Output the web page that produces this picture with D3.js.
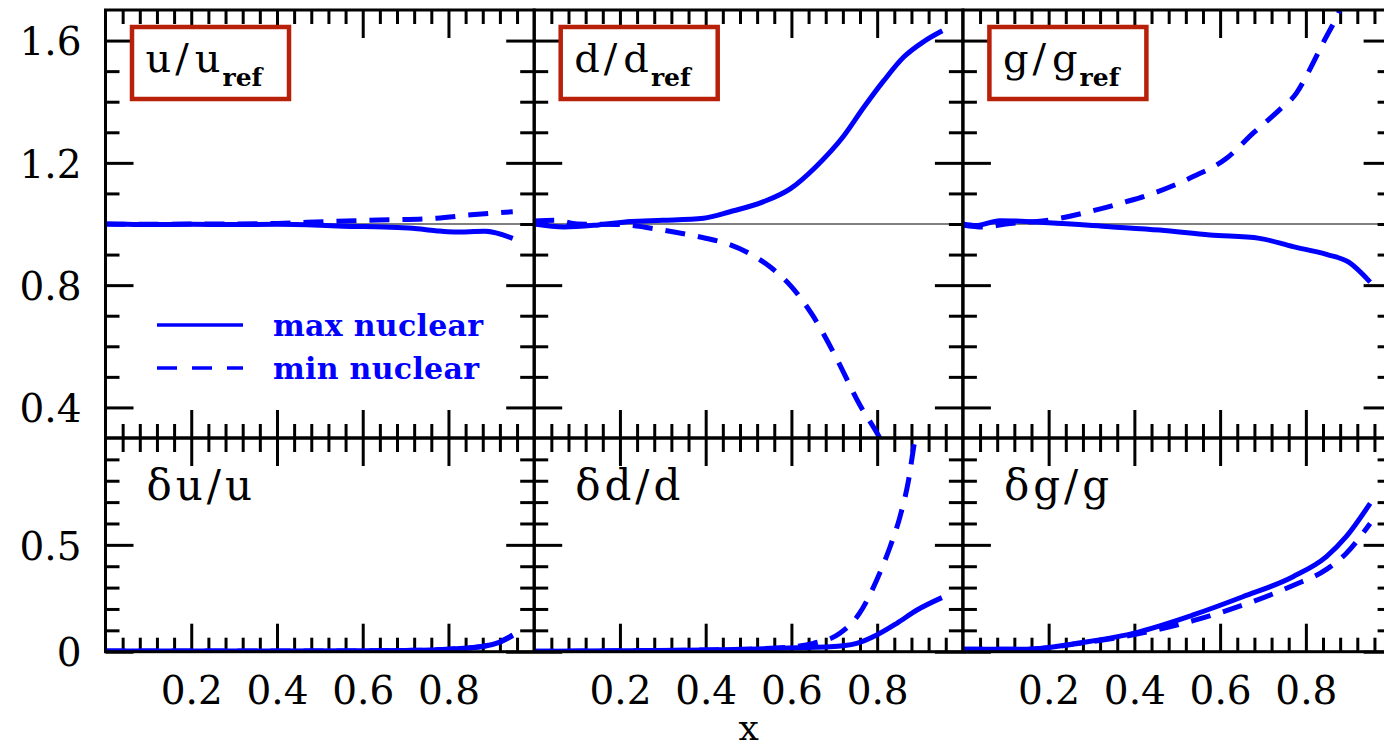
<!DOCTYPE html>
<html>
<head>
<meta charset="utf-8">
<script src="https://cdn.jsdelivr.net/npm/d3@7"></script>
<style>
  body { margin: 0; background: #fff; }
  svg { display: block; }
</style>
</head>
<body>
<svg id="chart" width="1384" height="751"></svg>
<script>
// ---- data ----
var xMajor = [0.2, 0.4, 0.6, 0.8];
var topMajor = [0.4, 0.8, 1.2, 1.6];
var botMajor = [0, 0.5];
var names = ["u", "d", "g"];

// u / u_ref
var uMaxX = [0, 0.05, 0.1, 0.2, 0.3, 0.4, 0.5, 0.555, 0.65, 0.716, 0.77, 0.813, 0.885, 0.95];
var uMaxY = [1.0, 0.999, 0.998, 0.999, 0.998, 0.999, 0.996, 0.993, 0.99, 0.986, 0.978, 0.974, 0.976, 0.953];
var uMinX = [0, 0.1, 0.2, 0.3, 0.4, 0.515, 0.636, 0.772, 0.853, 0.95];
var uMinY = [1.0, 0.999, 1.0, 1.0, 1.002, 1.008, 1.013, 1.019, 1.03, 1.04];
// d / d_ref
var dMaxX = [0, 0.07, 0.15, 0.224, 0.3, 0.395, 0.457, 0.535, 0.597, 0.659, 0.721, 0.768, 0.815, 0.862, 0.909, 0.952];
var dMaxY = [1.0, 0.99, 0.997, 1.008, 1.012, 1.019, 1.04, 1.073, 1.115, 1.19, 1.286, 1.38, 1.468, 1.546, 1.597, 1.632];
var dMinX = [0, 0.05, 0.1, 0.2, 0.3, 0.395, 0.44, 0.5, 0.55, 0.6, 0.65, 0.7, 0.76, 0.806, 0.84];
var dMinY = [1.01, 1.012, 1.0, 0.998, 0.98, 0.955, 0.94, 0.905, 0.86, 0.795, 0.7, 0.575, 0.407, 0.3, 0.2];
// g / g_ref
var gMaxX = [0, 0.03, 0.086, 0.2, 0.343, 0.459, 0.576, 0.692, 0.77, 0.85, 0.9, 0.95];
var gMaxY = [1.0, 0.995, 1.011, 1.004, 0.991, 0.98, 0.964, 0.953, 0.926, 0.9, 0.875, 0.81];
var gMinX = [0, 0.05, 0.1, 0.203, 0.311, 0.381, 0.443, 0.537, 0.615, 0.677, 0.739, 0.778, 0.809, 0.84, 0.879, 0.9];
var gMinY = [0.997, 0.99, 1.0, 1.013, 1.046, 1.073, 1.1, 1.155, 1.215, 1.297, 1.374, 1.428, 1.505, 1.592, 1.7, 1.78];
// delta u / u
var duMaxX = [0, 0.2, 0.4, 0.6, 0.7, 0.756, 0.8, 0.877, 0.92, 0.95];
var duMaxY = [0.003, 0.003, 0.003, 0.004, 0.006, 0.008, 0.012, 0.023, 0.045, 0.075];
var duMinX = [0, 0.2, 0.4, 0.6, 0.7, 0.756, 0.8, 0.877, 0.92, 0.95];
var duMinY = [0.003, 0.003, 0.003, 0.004, 0.006, 0.008, 0.012, 0.024, 0.047, 0.078];
// delta d / d
var ddMaxX = [0, 0.2, 0.4, 0.5, 0.612, 0.69, 0.752, 0.799, 0.846, 0.893, 0.951];
var ddMaxY = [0.002, 0.004, 0.008, 0.012, 0.019, 0.023, 0.039, 0.078, 0.133, 0.195, 0.253];
var ddMinX = [0, 0.2, 0.4, 0.5, 0.6, 0.651, 0.713, 0.759, 0.799, 0.83, 0.853, 0.873, 0.888, 0.9];
var ddMinY = [0.002, 0.004, 0.008, 0.012, 0.022, 0.039, 0.086, 0.18, 0.336, 0.49, 0.63, 0.8, 0.99, 1.1];
// delta g / g
var dgMaxX = [0, 0.148, 0.265, 0.397, 0.537, 0.653, 0.77, 0.848, 0.894, 0.95];
var dgMaxY = [0.011, 0.011, 0.039, 0.086, 0.172, 0.257, 0.351, 0.445, 0.538, 0.694];
var dgMinX = [0, 0.148, 0.265, 0.397, 0.537, 0.653, 0.77, 0.848, 0.894, 0.95];
var dgMinY = [0.011, 0.011, 0.037, 0.079, 0.145, 0.218, 0.31, 0.385, 0.46, 0.6];

var topSeries = [[uMaxX, uMaxY, uMinX, uMinY], [dMaxX, dMaxY, dMinX, dMinY], [gMaxX, gMaxY, gMinX, gMinY]];
var botSeries = [[duMaxX, duMaxY, duMinX, duMinY], [ddMaxX, ddMaxY, ddMinX, ddMinY], [dgMaxX, dgMaxY, dgMinX, dgMinY]];

// ---- layout ----
var svg = d3.select("#chart");
var left0 = 105.5, colW = 428.7;
var topY = 10, midY = 438, botY = 651.7;
var blue = "#0000ff", red = "#b8200a";
var font = "'DejaVu Serif', serif";

var xMinor = d3.range(0.04, 1, 0.04).filter(function(v) { return xMajor.every(function(m) { return Math.abs(m - v) > 1e-6; }); });
var topMinor = d3.range(0.4, 1.7, 0.1).filter(function(v) { return topMajor.every(function(m) { return Math.abs(m - v) > 1e-6; }); });
var botMinor = d3.range(0.1, 1, 0.1).filter(function(v) { return Math.abs(v - 0.5) > 1e-6; });

function noLabel() { return ""; }

function sideTicks(g, axis, scale, pos, major, minor, labels, pad) {
  var a = g.append("g").attr("transform", pos);
  a.call(axis(scale).tickValues(major).tickSize(-28).tickSizeOuter(0).tickPadding(pad || 26)
    .tickFormat(labels ? labels : noLabel));
  var b = g.append("g").attr("transform", pos);
  b.call(axis(scale).tickValues(minor).tickSize(-14).tickSizeOuter(0).tickFormat(noLabel));
  [a, b].forEach(function(s) {
    s.select(".domain").remove();
    s.selectAll(".tick line").attr("stroke", "#000").attr("stroke-width", 3);
    s.selectAll(".tick text").attr("font-family", font).attr("font-size", 39).attr("fill", "#000");
  });
  return a;
}

var line = d3.line().curve(d3.curveMonotoneX);

function drawPanel(col, isTop) {
  var x0 = left0 + col * colW;
  var x = d3.scaleLinear().domain([0, 1]).range([x0, x0 + colW]);
  var y = isTop ? d3.scaleLinear().domain([0.3, 1.7]).range([midY, topY])
                : d3.scaleLinear().domain([0, 1]).range([botY, midY]);
  var major = isTop ? topMajor : botMajor;
  var minor = isTop ? topMinor : botMinor;
  var g = svg.append("g");
  var id = "clip" + col + (isTop ? "t" : "b");
  g.append("clipPath").attr("id", id).append("rect")
    .attr("x", x(0)).attr("y", y.range()[1]).attr("width", colW).attr("height", y.range()[0] - y.range()[1]);

  var yLab = (col === 0) ? function(d) { return d === 0 ? "0" : d3.format(".1f")(d); } : null;
  var la = sideTicks(g, d3.axisLeft, y, "translate(" + x(0) + ",0)", major, minor, yLab, 24);
  la.selectAll(".tick text").attr("dy", "0.365em");
  sideTicks(g, d3.axisRight, y, "translate(" + x(1) + ",0)", major, minor, null);
  sideTicks(g, d3.axisTop, x, "translate(0," + y.range()[1] + ")", xMajor, xMinor, null);
  var xb = sideTicks(g, d3.axisBottom, x, "translate(0," + y.range()[0] + ")", xMajor, xMinor,
    isTop ? null : d3.format(".1f"), 25);
  xb.selectAll(".tick text").attr("dy", "0.71em");

  if (isTop) {
    g.append("line").attr("x1", x(0)).attr("x2", x(1)).attr("y1", y(1)).attr("y2", y(1))
      .attr("stroke", "#000").attr("stroke-width", 1.2);
  }

  var s = isTop ? topSeries[col] : botSeries[col];
  var lines = g.append("g").attr("clip-path", "url(#" + id + ")");
  var solid = s[0].map(function(v, i) { return [x(v), y(s[1][i])]; });
  var dashed = s[2].map(function(v, i) { return [x(v), y(s[3][i])]; });
  lines.append("path").attr("d", line(dashed)).attr("fill", "none").attr("stroke", blue)
    .attr("stroke-width", 5).attr("stroke-dasharray", "20,13");
  lines.append("path").attr("d", line(solid)).attr("fill", "none").attr("stroke", blue)
    .attr("stroke-width", 5);

  g.append("rect").attr("x", x(0)).attr("y", y.range()[1]).attr("width", colW)
    .attr("height", y.range()[0] - y.range()[1]).attr("fill", "none")
    .attr("stroke", "#000").attr("stroke-width", 3);

  var n = names[col];
  if (isTop) {
    g.append("rect").attr("x", x0 + 26.5).attr("y", 27).attr("width", 157).attr("height", 72)
      .attr("fill", "#fff").attr("stroke", red).attr("stroke-width", 4.5);
    var t = g.append("text").attr("x", x0 + 40).attr("y", 72)
      .attr("font-family", font).attr("font-size", 40).attr("fill", "#000");
    t.append("tspan").text(n);
    t.append("tspan").attr("dx", 4).text("/");
    t.append("tspan").attr("dx", 6).text(n);
    t.append("tspan").attr("dx", 2).attr("dy", 14).attr("font-size", 25).attr("font-weight", "bold").text("ref");
  } else {
    g.append("text").attr("x", x0 + 41).attr("y", 500)
      .attr("font-family", font).attr("font-size", 42).attr("letter-spacing", 4).attr("fill", "#000")
      .text("\u03b4" + n + "/" + n);
  }
  return { x: x, y: y };
}

var panels = [];
for (var c = 0; c < 3; c++) {
  panels.push(drawPanel(c, true));
  panels.push(drawPanel(c, false));
}

// legend in the first panel
var leg = svg.append("g");
var legItems = [["max nuclear", null, 325], ["min nuclear", "20,15", 368]];
legItems.forEach(function(it) {
  leg.append("line").attr("x1", 157).attr("x2", 243).attr("y1", it[2]).attr("y2", it[2])
    .attr("stroke", blue).attr("stroke-width", 3.5).attr("stroke-dasharray", it[1]);
  leg.append("text").attr("x", 273).attr("y", it[2] + 11)
    .attr("font-family", font).attr("font-weight", "bold").attr("font-size", 30)
    .attr("letter-spacing", 0.3).attr("fill", blue).text(it[0]);
});

// x axis title
svg.append("text").attr("x", left0 + colW * 1.5).attr("y", 740).attr("text-anchor", "middle")
  .attr("font-family", font).attr("font-size", 36).attr("fill", "#000").text("x");
</script>
</body>
</html>
